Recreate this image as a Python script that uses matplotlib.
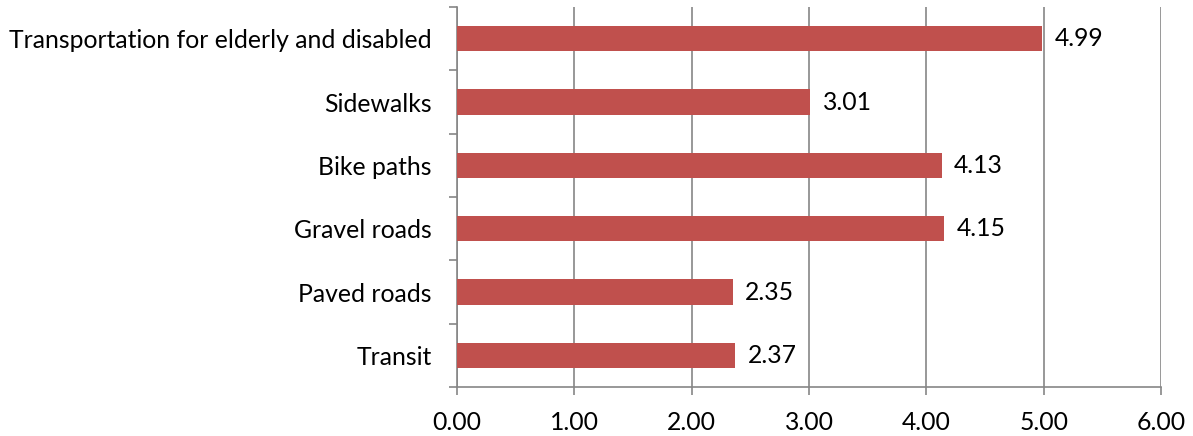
import matplotlib
matplotlib.use("Agg")
import matplotlib.pyplot as plt
import numpy as np

categories = ["Transit", "Paved roads", "Gravel roads", "Bike paths", "Sidewalks",
              "Transportation for elderly and disabled"]
values = [2.37, 2.35, 4.15, 4.13, 3.01, 4.99]
xticks = [0, 1, 2, 3, 4, 5, 6]

plt.rcParams['font.family'] = ['Lato', 'DejaVu Sans']
FS = 17.8

fig = plt.figure(figsize=(11.93, 4.36), dpi=100)
ax = fig.add_axes([457/1193, 1 - 387/436, (1161 - 457)/1193, (387 - 7)/436])

y = np.arange(len(categories))
bar_color = "#C0504D"
grid_color = "#868686"
ax.barh(y, values, height=0.4, color=bar_color, zorder=3)

for yi, v in zip(y, values):
    ax.annotate(f"{v:.2f}", (v, yi), xytext=(9, 0), textcoords="offset points",
                va="center", ha="left", fontsize=FS, color="black")

ax.set_xlim(0, 6)
ax.set_ylim(-0.5, len(categories) - 0.5)
ax.set_xticks(xticks)
ax.set_xticklabels([f"{t:.2f}" for t in xticks], fontsize=FS)
ax.set_yticks(y)
ax.set_yticklabels(categories, fontsize=FS)
ax.set_yticks(np.arange(-0.5, len(categories), 1.0), minor=True)
ax.tick_params(axis='y', which='major', length=0, pad=18)
ax.tick_params(axis='y', which='minor', length=6, color=grid_color, width=1.2, direction='out')
ax.tick_params(axis='x', which='major', length=6, color=grid_color, width=1.2, direction='out', pad=11)

ax.grid(axis='x', color=grid_color, linewidth=1.2, zorder=0)
for s in ['top', 'right']:
    ax.spines[s].set_visible(False)
for s in ['left', 'bottom']:
    ax.spines[s].set_color(grid_color)
    ax.spines[s].set_linewidth(1.2)

fig.savefig("out.png", dpi=100)
